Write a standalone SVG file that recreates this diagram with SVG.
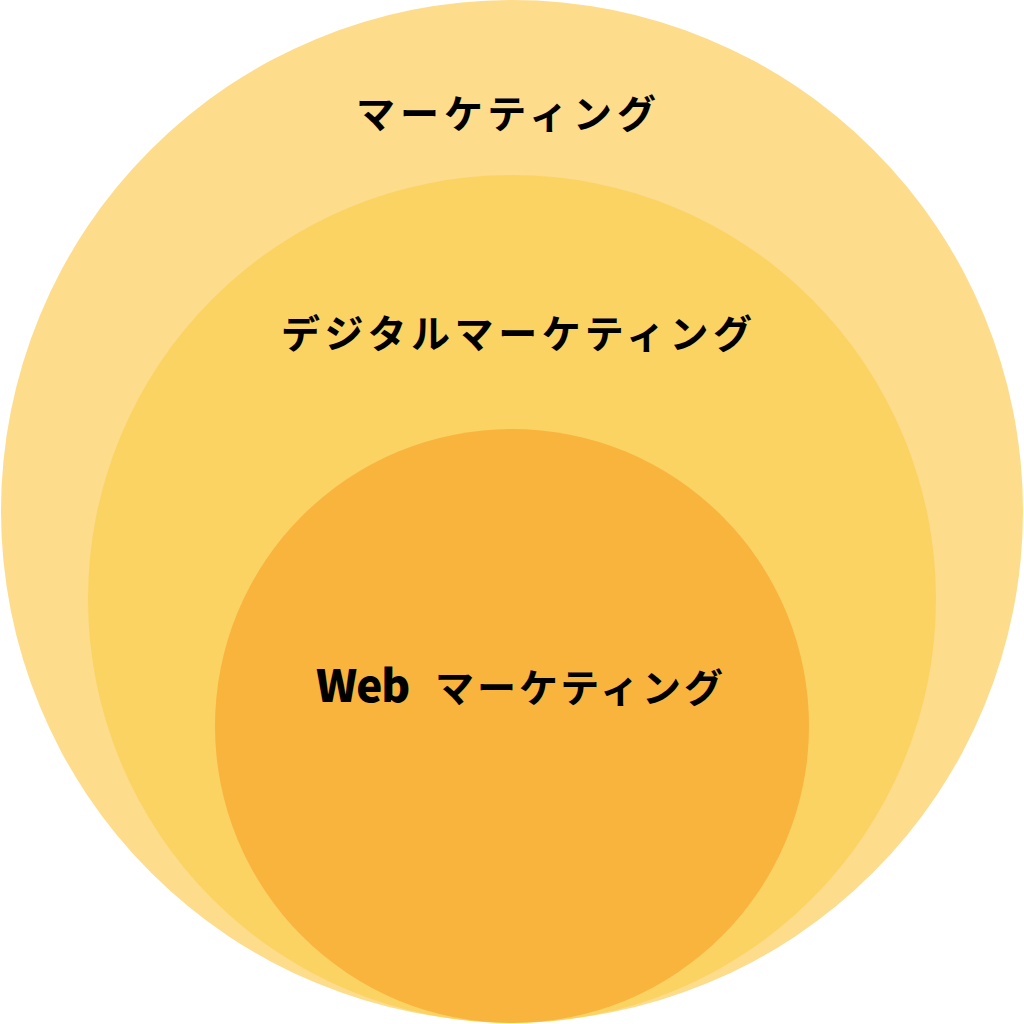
<svg xmlns="http://www.w3.org/2000/svg" width="1024" height="1024" viewBox="0 0 1024 1024">
<style>
.lbl{font-family:"Noto Sans CJK JP","Noto Sans",sans-serif;font-weight:700;font-size:39px;letter-spacing:5px;fill:#000}
.lat{font-weight:900;font-size:44px;letter-spacing:-1px}
.kat{letter-spacing:3px}
</style>
<rect width="1024" height="1024" fill="#ffffff"/>
<g id="outer"><circle cx="512" cy="511" r="511" fill="#FDDC8B"/><text class="lbl" x="356" y="128">マーケティング</text></g>
<g id="middle"><circle cx="512" cy="599" r="424" fill="#FBD363"/><text class="lbl" x="281" y="348" style="letter-spacing:4.6px">デジタルマーケティング</text></g>
<g id="inner"><circle cx="512" cy="726" r="297" fill="#F9B43D"/><text class="lbl" y="702"><tspan class="lat" x="316">Web</tspan><tspan class="kat" x="435">マーケティング</tspan></text></g>
<g id="connectors"/>
</svg>
